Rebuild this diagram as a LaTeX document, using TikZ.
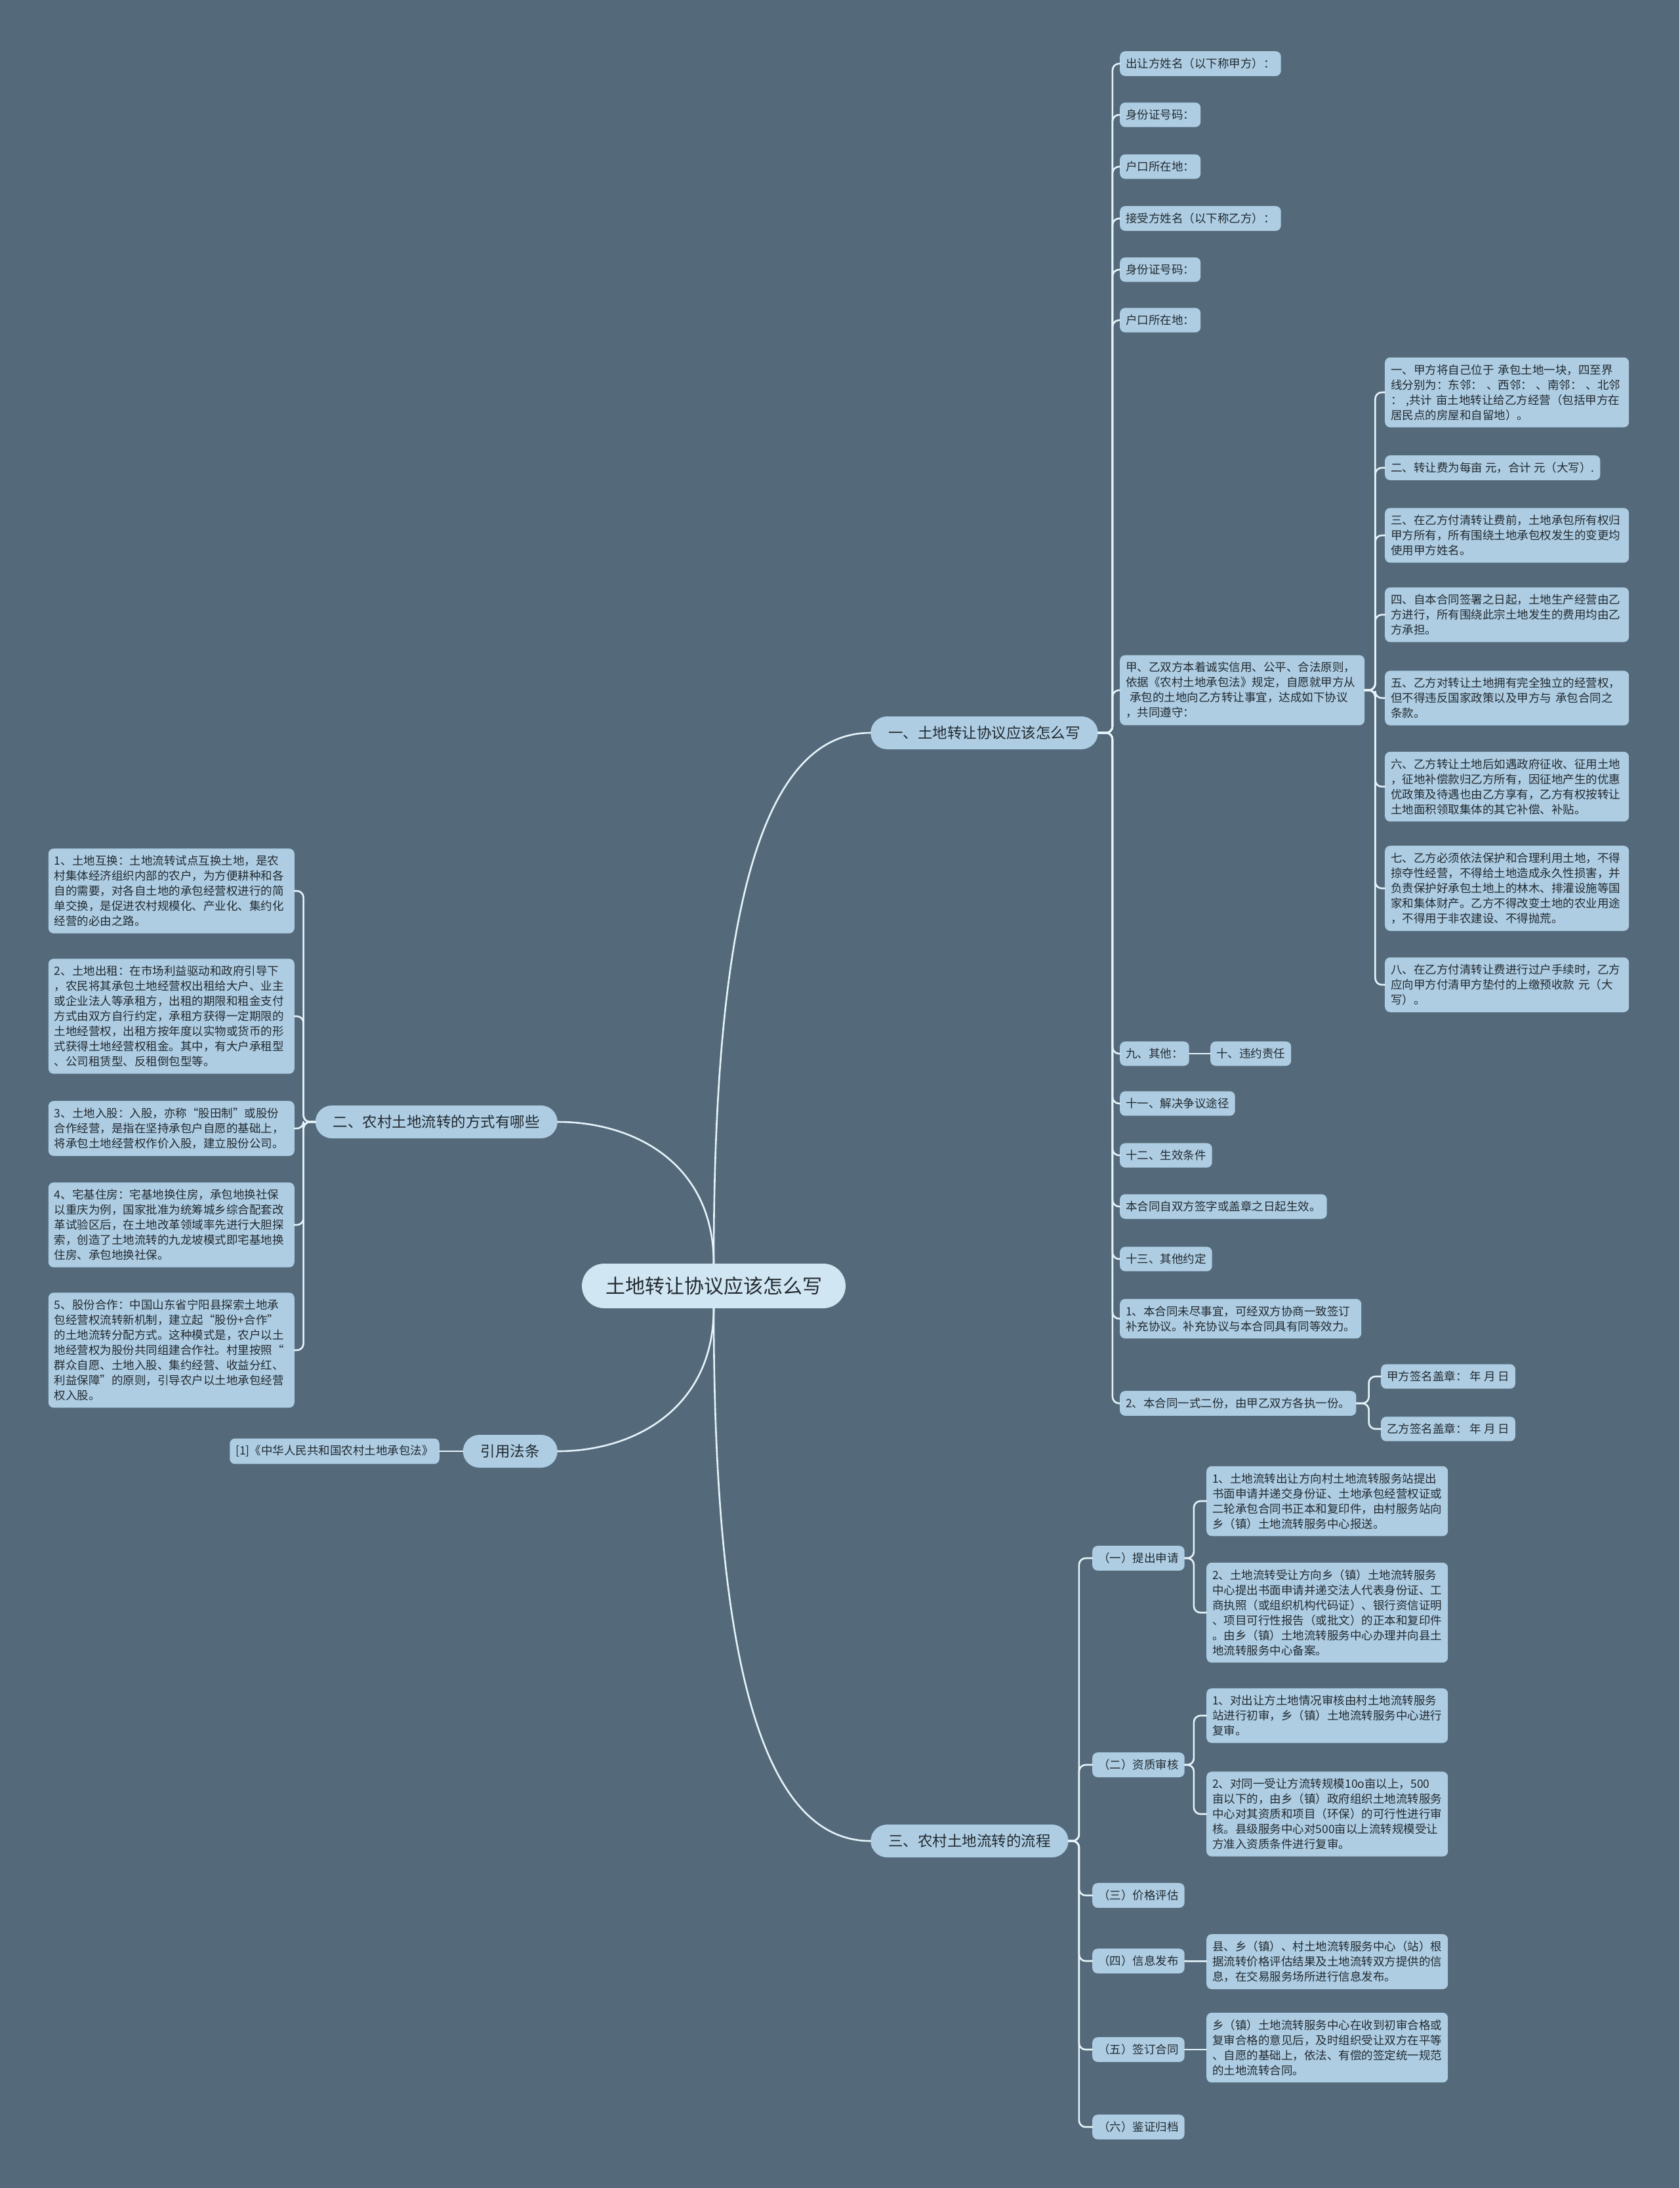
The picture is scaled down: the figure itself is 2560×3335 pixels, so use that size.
\documentclass[tikz,border=0pt]{standalone}
\usepackage{fontspec}
\setmainfont{Noto Sans CJK SC}
\definecolor{bgcol}{HTML}{546A7A}
\definecolor{boxcol}{HTML}{AECDE3}
\definecolor{rootcol}{HTML}{D1E6F3}
\definecolor{linkcol}{HTML}{E6F3FA}
\definecolor{txtcol}{HTML}{222A30}
\begin{document}
\begin{tikzpicture}[x=1pt,y=-1pt,line join=round,line cap=round,
	leaf/.style={fill=boxcol,text=txtcol,rounded corners=8pt,inner xsep=9pt,inner ysep=10.5pt,font=\fontsize{17.5}{23}\selectfont,align=left},
	para/.style={leaf,text width=#1},para/.default=354pt,
	branch/.style={fill=boxcol,text=txtcol,rounded corners=25pt,inner xsep=27pt,minimum height=50pt,font=\fontsize{22.5}{28}\selectfont},
	rootbox/.style={fill=rootcol,text=txtcol,rounded corners=34pt,inner xsep=36pt,minimum height=68pt,font=\fontsize{30}{36}\selectfont},
	link/.style={draw=linkcol,line width=2.6pt,rounded corners=10pt}]
	\useasboundingbox (0,0) rectangle (2560,3335);
	\fill[bgcol] (0,0) rectangle (2560,3335);
	
	\node[rootbox] (root) at (1088,1960) {土地转让协议应该怎么写};
	\node[branch,anchor=west] (b1) at (1327,1117) {一、土地转让协议应该怎么写};
	\node[branch,anchor=east] (b2) at (850,1710) {二、农村土地流转的方式有哪些};
	\node[branch,anchor=east] (b3) at (850,2212) {引用法条};
	\node[branch,anchor=west] (b4) at (1327,2806) {三、农村土地流转的流程};
	
	\node[leaf,anchor=west] (a1) at (1707,97) {出让方姓名（以下称甲方）：};
	\node[leaf,anchor=west] (a2) at (1707,175) {身份证号码：};
	\node[leaf,anchor=west] (a3) at (1707,254) {户口所在地：};
	\node[leaf,anchor=west] (a4) at (1707,333) {接受方姓名（以下称乙方）：};
	\node[leaf,anchor=west] (a5) at (1707,411) {身份证号码：};
	\node[leaf,anchor=west] (a6) at (1707,488) {户口所在地：};
	\node[para=355pt,anchor=west] (a7) at (1707,1052) {甲、乙双方本着诚实信用、公平、合法原则，\\依据《农村土地承包法》规定，自愿就甲方从\\\ 承包的土地向乙方转让事宜，达成如下协议\\，共同遵守：};
	\node[leaf,anchor=west] (a8) at (1707,1606) {九、其他：};
	\node[leaf,anchor=west] (a8b) at (1845,1606) {十、违约责任};
	\node[leaf,anchor=west] (a9) at (1707,1682) {十一、解决争议途径};
	\node[leaf,anchor=west] (a10) at (1707,1761) {十二、生效条件};
	\node[leaf,anchor=west] (a11) at (1707,1839) {本合同自双方签字或盖章之日起生效。};
	\node[leaf,anchor=west] (a12) at (1707,1919) {十三、其他约定};
	\node[para=350pt,anchor=west] (a13) at (1707,2010) {1、本合同未尽事宜，可经双方协商一致签订\\补充协议。补充协议与本合同具有同等效力。};
	\node[leaf,anchor=west] (a14) at (1707,2139) {2、本合同一式二份，由甲乙双方各执一份。};
	\node[leaf,anchor=west] (s1) at (2105,2098) {甲方签名盖章：\ 年 月 日};
	\node[leaf,anchor=west] (s2) at (2105,2178) {乙方签名盖章：\ 年 月 日};
	
	\node[para,anchor=west] (c1) at (2111,598) {一、甲方将自己位于 承包土地一块，四至界\\线分别为：东邻：\mbox{ }、西邻：\mbox{ }、南邻：\mbox{ }、北邻\\：\mbox{ },共计 亩土地转让给乙方经营（包括甲方在\\居民点的房屋和自留地）。};
	\node[leaf,anchor=west] (c2) at (2111,713) {二、转让费为每亩 元，合计 元（大写）.};
	\node[para,anchor=west] (c3) at (2111,816) {三、在乙方付清转让费前，土地承包所有权归\\甲方所有，所有围绕土地承包权发生的变更均\\使用甲方姓名。};
	\node[para,anchor=west] (c4) at (2111,937) {四、自本合同签署之日起，土地生产经营由乙\\方进行，所有围绕此宗土地发生的费用均由乙\\方承担。};
	\node[para,anchor=west] (c5) at (2111,1064) {五、乙方对转让土地拥有完全独立的经营权，\\但不得违反国家政策以及甲方与 承包合同之\\条款。};
	\node[para,anchor=west] (c6) at (2111,1199) {六、乙方转让土地后如遇政府征收、征用土地\\，征地补偿款归乙方所有，因征地产生的优惠\\优政策及待遇也由乙方享有，乙方有权按转让\\土地面积领取集体的其它补偿、补贴。};
	\node[para,anchor=west] (c7) at (2111,1354) {七、乙方必须依法保护和合理利用土地，不得\\掠夺性经营，不得给土地造成永久性损害，并\\负责保护好承包土地上的林木、排灌设施等国\\家和集体财产。乙方不得改变土地的农业用途\\，不得用于非农建设、不得抛荒。};
	\node[para,anchor=west] (c8) at (2111,1501) {八、在乙方付清转让费进行过户手续时，乙方\\应向甲方付清甲方垫付的上缴预收款 元（大\\写）。};
	
	\node[para=357pt,anchor=east] (l1) at (449,1358) {1、土地互换：土地流转试点互换土地，是农\\村集体经济组织内部的农户，为方便耕种和各\\自的需要，对各自土地的承包经营权进行的简\\单交换，是促进农村规模化、产业化、集约化\\经营的必由之路。};
	\node[para=357pt,anchor=east] (l2) at (449,1549) {2、土地出租：在市场利益驱动和政府引导下\\，农民将其承包土地经营权出租给大户、业主\\或企业法人等承租方，出租的期限和租金支付\\方式由双方自行约定，承租方获得一定期限的\\土地经营权，出租方按年度以实物或货币的形\\式获得土地经营权租金。其中，有大户承租型\\、公司租赁型、反租倒包型等。};
	\node[para=357pt,anchor=east] (l3) at (449,1720) {3、土地入股：入股，亦称“股田制”或股份\\合作经营，是指在坚持承包户自愿的基础上，\\将承包土地经营权作价入股，建立股份公司。};
	\node[para=357pt,anchor=east] (l4) at (449,1867) {4、宅基住房：宅基地换住房，承包地换社保\\以重庆为例，国家批准为统筹城乡综合配套改\\革试验区后，在土地改革领域率先进行大胆探\\索，创造了土地流转的九龙坡模式即宅基地换\\住房、承包地换社保。};
	\node[para=357pt,anchor=east] (l5) at (449,2058) {5、股份合作：中国山东省宁阳县探索土地承\\包经营权流转新机制，建立起“股份+合作”\\的土地流转分配方式。这种模式是，农户以土\\地经营权为股份共同组建合作社。村里按照“\\群众自愿、土地入股、集约经营、收益分红、\\利益保障”的原则，引导农户以土地承包经营\\权入股。};
	\node[leaf,anchor=east] (r1) at (670,2212) {[1]《中华人民共和国农村土地承包法》};
	
	\node[leaf,anchor=west] (p1) at (1665,2375) {（一）提出申请};
	\node[leaf,anchor=west] (p2) at (1665,2690) {（二）资质审核};
	\node[leaf,anchor=west] (p3) at (1665,2889) {（三）价格评估};
	\node[leaf,anchor=west] (p4) at (1665,2989) {（四）信息发布};
	\node[leaf,anchor=west] (p5) at (1665,3124) {（五）签订合同};
	\node[leaf,anchor=west] (p6) at (1665,3242) {（六）鉴证归档};
	\node[para=350pt,anchor=west] (q1) at (1839,2288) {1、土地流转出让方向村土地流转服务站提出\\书面申请并递交身份证、土地承包经营权证或\\二轮承包合同书正本和复印件，由村服务站向\\乡（镇）土地流转服务中心报送。};
	\node[para=350pt,anchor=west] (q2) at (1839,2458) {2、土地流转受让方向乡（镇）土地流转服务\\中心提出书面申请并递交法人代表身份证、工\\商执照（或组织机构代码证）、银行资信证明\\、项目可行性报告（或批文）的正本和复印件\\。由乡（镇）土地流转服务中心办理并向县土\\地流转服务中心备案。};
	\node[para=350pt,anchor=west] (q3) at (1839,2615) {1、对出让方土地情况审核由村土地流转服务\\站进行初审，乡（镇）土地流转服务中心进行\\复审。};
	\node[para=350pt,anchor=west] (q4) at (1839,2765) {2、对同一受让方流转规模10o亩以上，500\\亩以下的，由乡（镇）政府组织土地流转服务\\中心对其资质和项目（环保）的可行性进行审\\核。县级服务中心对500亩以上流转规模受让\\方准入资质条件进行复审。};
	\node[para=350pt,anchor=west] (q5) at (1839,2990) {县、乡（镇）、村土地流转服务中心（站）根\\据流转价格评估结果及土地流转双方提供的信\\息，在交易服务场所进行信息发布。};
	\node[para=350pt,anchor=west] (q6) at (1839,3121) {乡（镇）土地流转服务中心在收到初审合格或\\复审合格的意见后，及时组织受让双方在平等\\、自愿的基础上，依法、有偿的签定统一规范\\的土地流转合同。};
	
	\draw[link] (root.north) .. controls +(0,-520) and +(-170,0) .. (b1.west);
	\draw[link] (root.north) .. controls +(0,-150) and +(120,0) .. (b2.east);
	\draw[link] (root.south) .. controls +(0,150) and +(120,0) .. (b3.east);
	\draw[link] (root.south) .. controls +(0,520) and +(-170,0) .. (b4.west);
	\foreach \i in {1,...,14}
		\draw[link] (b1.east) -- ++(22,0) |- (a\i.west);
	\draw[link] (a8) -- (a8b);
	\foreach \i in {1,2}
		\draw[link] (a14.east) -- ++(19,0) |- (s\i.west);
	\foreach \i in {1,...,8}
		\draw[link] (a7.east) -- ++(16,0) |- (c\i.west);
	\foreach \i in {1,...,5}
		\draw[link] (b2.west) -- ++(-18,0) |- (l\i.east);
	\draw[link] (b3) -- (r1);
	\foreach \i in {1,...,6}
		\draw[link] (b4.east) -- ++(16,0) |- (p\i.west);
	\foreach \i in {1,2}
		\draw[link] (p1.east) -- ++(14,0) |- (q\i.west);
	\foreach \i in {3,4}
		\draw[link] (p2.east) -- ++(14,0) |- (q\i.west);
	\draw[link] (p4) -- (q5);
	\draw[link] (p5.east) -- (p5.east -| q6.west);
\end{tikzpicture}
\end{document}
